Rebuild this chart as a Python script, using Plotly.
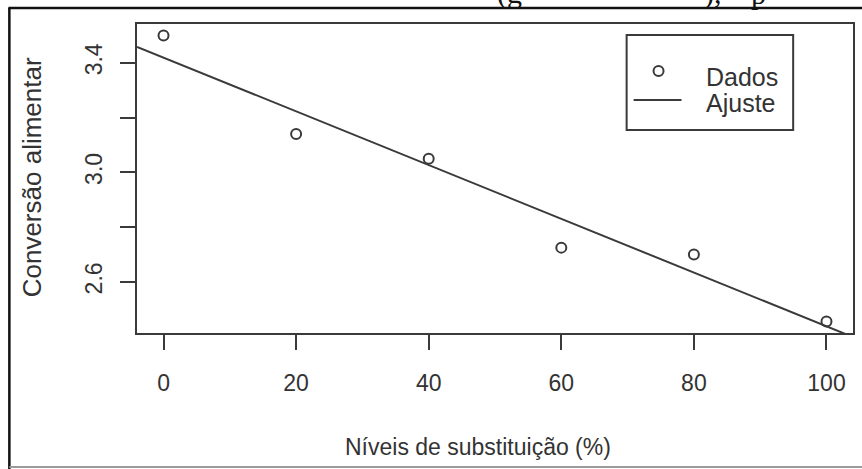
import numpy as np
import plotly.graph_objects as go

# ---- data ----
niveis = [0, 20, 40, 60, 80, 100]                       # Níveis de substituição (%)
conversao = [3.50, 3.14, 3.05, 2.725, 2.70, 2.455]      # Conversão alimentar
x_ticks = [0, 20, 40, 60, 80, 100]
y_ticks = [2.6, 2.8, 3.0, 3.2, 3.4]
y_ticktext = ["2.6", "", "3.0", "", "3.4"]
legend_labels = ["Dados", "Ajuste"]

# ---- layout constants ----
W, H = 862, 469
L, R, T, B = 137, 7, 24, 136
PW, PH = W - L - R, H - T - B
INK = "#3a3a3a"
TXT = "#333333"
FONT = "Liberation Sans, Arial, sans-serif"
SERIF = "Liberation Serif, Times New Roman, serif"


def px(x):
    return (x - L) / PW


def py(y):
    return (H - B - y) / PH


# R-style axis ranges (4% extension of data range)
xs = np.array(niveis, dtype=float)
ys = np.array(conversao, dtype=float)
xr = [xs.min() - 0.04 * (xs.max() - xs.min()), xs.max() + 0.04 * (xs.max() - xs.min())]
yr = [ys.min() - 0.04 * (ys.max() - ys.min()), ys.max() + 0.04 * (ys.max() - ys.min())]

# linear fit (abline across the whole plot)
slope, intercept = np.polyfit(xs, ys, 1)
fit_x = np.array(xr)
fit_y = intercept + slope * fit_x

fig = go.Figure()
fig.add_trace(go.Scatter(
    x=fit_x, y=fit_y, mode="lines", name=legend_labels[1],
    line=dict(color=INK, width=2), showlegend=False, hoverinfo="skip"))
fig.add_trace(go.Scatter(
    x=niveis, y=conversao, mode="markers", name=legend_labels[0],
    marker=dict(symbol="circle-open", size=10, color=INK, line=dict(width=2)),
    showlegend=False, cliponaxis=False))

fig.update_xaxes(
    range=xr, tickvals=x_ticks, ticks="outside", ticklen=15, tickwidth=2,
    tickcolor=INK, showline=True, mirror=True, linewidth=2, linecolor=INK,
    showgrid=False, zeroline=False, tickfont=dict(size=23, color=TXT, family=FONT),
    ticklabelstandoff=13)
fig.update_yaxes(
    range=yr, tickvals=y_ticks, ticktext=y_ticktext, tickangle=-90,
    ticks="outside", ticklen=15, tickwidth=2, tickcolor=INK, showline=True,
    mirror=True, linewidth=2, linecolor=INK, showgrid=False, zeroline=False,
    tickfont=dict(size=23, color=TXT, family=FONT), ticklabelstandoff=9)

shapes = []
# outer document frame (top and left black, bottom light gray)
shapes.append(dict(type="line", xref="paper", yref="paper",
                   x0=px(8), x1=px(870), y0=py(8), y1=py(8),
                   line=dict(color="#111111", width=2.5)))
shapes.append(dict(type="line", xref="paper", yref="paper",
                   x0=px(9), x1=px(9), y0=py(8), y1=py(470),
                   line=dict(color="#111111", width=2.5)))
shapes.append(dict(type="line", xref="paper", yref="paper",
                   x0=px(9), x1=px(870), y0=py(467), y1=py(467),
                   line=dict(color="#9a9a9a", width=2)))
# legend box
shapes.append(dict(type="rect", xref="paper", yref="paper",
                   x0=px(628), x1=px(795), y0=py(130), y1=py(35),
                   line=dict(color=INK, width=2), fillcolor="white", layer="above"))
# legend line sample
shapes.append(dict(type="line", xref="paper", yref="paper",
                   x0=px(635), x1=px(683), y0=py(100), y1=py(100),
                   line=dict(color=INK, width=2), layer="above"))
# legend circle sample
shapes.append(dict(type="circle", xref="paper", yref="paper",
                   xsizemode="pixel", ysizemode="pixel",
                   xanchor=px(660), yanchor=py(71),
                   x0=-5, x1=5, y0=-5, y1=5,
                   line=dict(color=INK, width=2), layer="above"))

annotations = [
    dict(text=legend_labels[0], xref="paper", yref="paper", x=px(706), y=py(77),
         xanchor="left", yanchor="middle", showarrow=False,
         font=dict(size=25, color=TXT, family=FONT)),
    dict(text=legend_labels[1], xref="paper", yref="paper", x=px(706), y=py(103),
         xanchor="left", yanchor="middle", showarrow=False,
         font=dict(size=25, color=TXT, family=FONT)),
    dict(text="Níveis de substituição (%)", xref="paper", yref="paper",
         x=px(479), y=py(447), xanchor="center", yanchor="middle", showarrow=False,
         font=dict(size=23, color=TXT, family=FONT)),
    dict(text="Conversão alimentar", xref="paper", yref="paper",
         x=px(32), y=py(177), xanchor="center", yanchor="middle", showarrow=False,
         textangle=-90, font=dict(size=26, color=TXT, family=FONT)),
    # fragments of the document text cut off above the figure
    dict(text="(g", xref="paper", yref="paper", x=px(496), y=py(12),
         xanchor="left", yanchor="bottom", showarrow=False,
         font=dict(size=30, color="#111111", family=SERIF)),
    dict(text="),", xref="paper", yref="paper", x=px(704), y=py(12),
         xanchor="left", yanchor="bottom", showarrow=False,
         font=dict(size=30, color="#111111", family=SERIF)),
    dict(text="p", xref="paper", yref="paper", x=px(751), y=py(12),
         xanchor="left", yanchor="bottom", showarrow=False,
         font=dict(size=30, color="#111111", family=SERIF)),
]

fig.update_layout(
    width=W, height=H, margin=dict(l=L, r=R, t=T, b=B),
    paper_bgcolor="white", plot_bgcolor="white",
    shapes=shapes, annotations=annotations, showlegend=False,
    font=dict(family=FONT, color=TXT))

fig.write_html("out.html", config={"displayModeBar": False},
               post_script="document.body.style.margin='0';")
